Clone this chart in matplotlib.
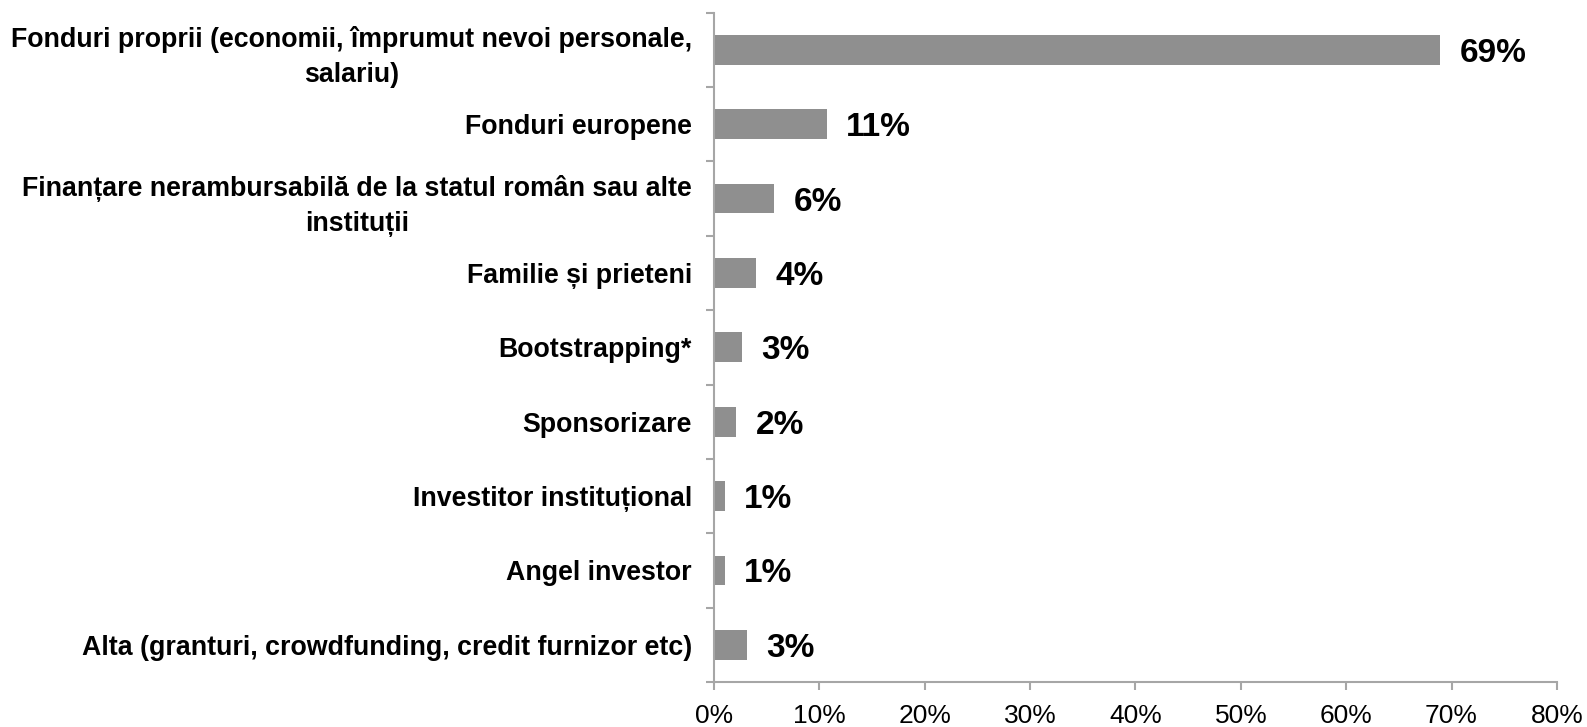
import matplotlib
matplotlib.use('Agg')
import matplotlib.pyplot as plt
import numpy as np

plt.rcParams['font.family'] = ['Liberation Sans', 'DejaVu Sans']

# Data (percent of respondents)
categories = [
    'Fonduri proprii (economii, împrumut nevoi personale,\nsalariu)',
    'Fonduri europene',
    'Finanțare nerambursabilă de la statul român sau alte\ninstituții',
    'Familie și prieteni',
    'Bootstrapping*',
    'Sponsorizare',
    'Investitor instituțional',
    'Angel investor',
    'Alta (granturi, crowdfunding, credit furnizor etc)',
]
values = [68.9, 10.7, 5.7, 4.0, 2.6, 2.1, 1.0, 1.0, 3.1]
xticks = [0, 10, 20, 30, 40, 50, 60, 70, 80]

bar_color = '#8f8f8f'
axis_color = '#a6a6a6'

fig = plt.figure(figsize=(15.87, 7.27), dpi=100)
ax = fig.add_axes([0.45, 0.062, 0.531, 0.9205])

y = np.arange(len(categories))
bars = ax.barh(y, values, height=0.4, color=bar_color)

# Value labels next to each bar
for rect, v in zip(bars, values):
    ax.annotate(f'{v:.0f}%', xy=(rect.get_width(), rect.get_y() + rect.get_height() / 2),
                xytext=(14, -2.5), textcoords='offset points', va='center', ha='left',
                fontsize=24, fontweight='bold', color='black')

ax.set_xlim(0, 80)
ax.set_ylim(len(categories) - 0.5, -0.5)

# Major y ticks at category boundaries, labels on minor ticks
ax.set_yticks(np.arange(-0.5, len(categories), 1.0))
ax.set_yticklabels([])
ax.set_yticks(y, minor=True)
labels = ax.set_yticklabels(categories, minor=True, fontsize=19.25, fontweight='bold',
                            multialignment='center')
for lab in labels:
    lab.set_linespacing(1.45)
ax.tick_params(axis='y', which='minor', length=0, pad=16)
ax.tick_params(axis='y', which='major', length=6, width=1.5, color=axis_color, direction='out')

ax.set_xticks(xticks)
ax.set_xticklabels([f'{t}%' for t in xticks], fontsize=19)
ax.tick_params(axis='x', length=6, width=1.5, color=axis_color, direction='out', pad=10)

for side in ['top', 'right']:
    ax.spines[side].set_visible(False)
for side in ['left', 'bottom']:
    ax.spines[side].set_color(axis_color)
    ax.spines[side].set_linewidth(1.5)

fig.savefig('out.png', dpi=100)
